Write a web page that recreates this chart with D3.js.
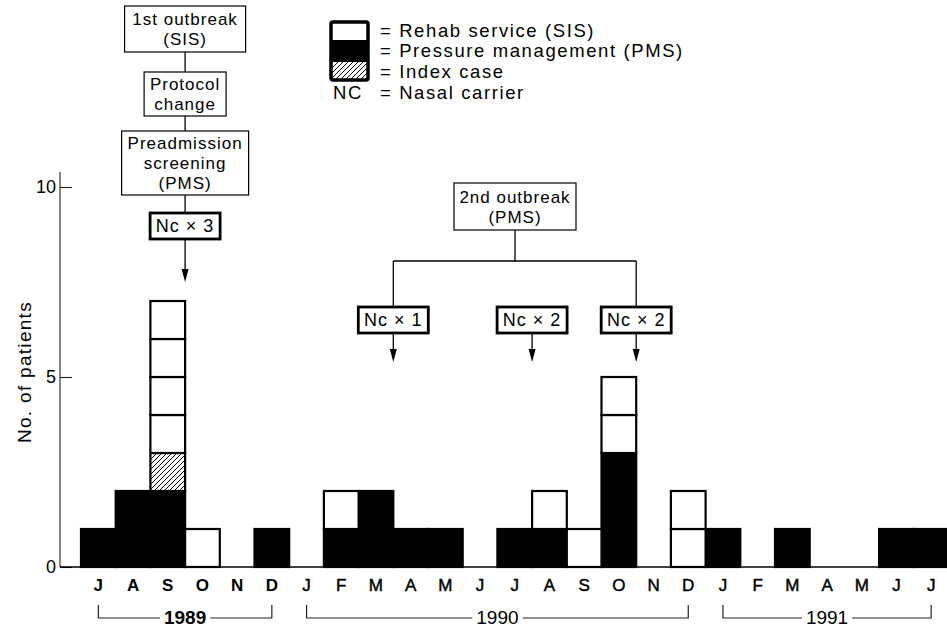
<!DOCTYPE html>
<html><head><meta charset="utf-8">
<script src="https://cdn.jsdelivr.net/npm/d3@7"></script>
<style>
body{margin:0;background:#fff}
svg{display:block}
text{font-family:"Liberation Sans",Arial,Helvetica,sans-serif;fill:#000}
</style>
</head><body>
<svg id="chart" width="947" height="627"></svg>
<script>
// ---------- data ----------
const months = ["J","A","S","O","N","D","J","F","M","A","M","J","J","A","S","O","N","D","J","F","M","A","M","J","J"];
const pms       = [1,2,2,0,0,1, 0,1,2,1,1,0,1,1,0,3,0,0, 1,0,1,0,0,1,1];
const indexCase = [0,0,1,0,0,0, 0,0,0,0,0,0,0,0,0,0,0,0, 0,0,0,0,0,0,0];
const sis       = [0,0,4,1,0,0, 0,1,0,0,0,0,0,1,1,2,0,2, 0,0,0,0,0,0,0];
const yTicks = [0,5,10];
const yearLabels = ["1989","1990","1991"];
const yearFrom   = [0,6,18];
const yearTo     = [5,17,24];
const ncLabels   = ["Nc \u00d7 3","Nc \u00d7 1","Nc \u00d7 2","Nc \u00d7 2"];
const ncAt       = [3,9,13,16];   // month boundary the arrow points to
const legendLabels = ["Rehab service (SIS)","Pressure management (PMS)","Index case"];
const firstOutbreakSteps = [["1st outbreak","(SIS)"],["Protocol","change"],["Preadmission","screening","(PMS)"]];
const secondOutbreak = ["2nd outbreak","(PMS)"];

// ---------- setup ----------
const svg = d3.select("#chart");
const step = 34.7, x0 = 81;
const x = d3.scaleBand().domain(d3.range(months.length)).range([x0, x0 + step*months.length]).padding(0);
const y = d3.scaleLinear().domain([0,10]).range([567,187]);
const bx = i => x0 + step*i; // month boundary

const defs = svg.append("defs");
const pat = defs.append("pattern").attr("id","hatch").attr("patternUnits","userSpaceOnUse")
  .attr("width",5).attr("height",5);
pat.append("rect").attr("width",5).attr("height",5).attr("fill","#fff");
pat.append("path").attr("d","M-1,1 l2,-2 M0,5 l5,-5 M4,6 l2,-2").attr("stroke","#000").attr("stroke-width",1);

// ---------- axes ----------
svg.append("line").attr("x1",60).attr("x2",60).attr("y1",172).attr("y2",y(0))
  .attr("stroke","#222").attr("stroke-width",1.1);
const yAxis = svg.append("g").attr("transform","translate(60,0)")
  .call(d3.axisLeft(y).tickValues(yTicks).tickSizeInner(-12).tickSizeOuter(0).tickPadding(4));
yAxis.select(".domain").remove();
yAxis.selectAll(".tick line").attr("stroke","#222").attr("stroke-width",1.1);
yAxis.selectAll(".tick text").attr("font-size",18).attr("font-family",null).attr("fill","#000");

svg.append("text").attr("transform","translate(31,372) rotate(-90)")
  .attr("text-anchor","middle").attr("font-size",19).attr("letter-spacing",1.3)
  .text("No. of patients");

// ---------- bars ----------
const cells = [];
months.forEach((m,i) => {
  let base = 0;
  if (pms[i] > 0) { cells.push({i, y0:base, y1:base+pms[i], type:"pms"}); base += pms[i]; }
  for (let k=0;k<indexCase[i];k++){ cells.push({i, y0:base, y1:base+1, type:"idx"}); base += 1; }
  for (let k=0;k<sis[i];k++){ cells.push({i, y0:base, y1:base+1, type:"sis"}); base += 1; }
});
const order = {pms:0, idx:1, sis:2};
cells.sort((a,b)=>order[a.type]-order[b.type]);
svg.append("g").selectAll("rect").data(cells).join("rect")
  .attr("x", d => x(d.i)).attr("width", x.bandwidth())
  .attr("y", d => y(d.y1)).attr("height", d => y(d.y0)-y(d.y1))
  .attr("fill", d => d.type==="pms" ? "#000" : d.type==="idx" ? "url(#hatch)" : "#fff")
  .attr("stroke","#000").attr("stroke-width",2.2);

// baseline
svg.append("line").attr("x1",60).attr("x2",947).attr("y1",y(0)).attr("y2",y(0))
  .attr("stroke","#000").attr("stroke-width",1.4);

// month labels
const xAxis = svg.append("g").attr("transform",`translate(0,${y(0)})`)
  .call(d3.axisBottom(x).tickSize(0).tickPadding(12).tickFormat(i => months[i]));
xAxis.select(".domain").remove();
xAxis.selectAll(".tick text").attr("font-size",17).attr("font-family",null).attr("fill","#000")
  .attr("font-weight", i => i<6 ? "bold" : "normal")
  .attr("stroke", i => i<6 ? null : "#000").attr("stroke-width",0.45);

// year brackets
yearLabels.forEach((lab,k) => {
  const xa = x(yearFrom[k]) + x.bandwidth()/2, xb = x(yearTo[k]) + x.bandwidth()/2;
  const cx = (xa+xb)/2;
  const g = svg.append("g");
  const t = g.append("text").attr("x",cx).attr("y",624).attr("text-anchor","middle")
    .attr("font-size",19).attr("font-weight", k===0 ? "bold" : "normal").text(lab);
  const w = t.node().getComputedTextLength()/2 + 4;
  g.append("path").attr("fill","none").attr("stroke","#222").attr("stroke-width",1.2)
    .attr("d",`M${xa},605 V618 H${cx-w} M${cx+w},618 H${xb} V605`);
});

// ---------- annotation helpers ----------
function box(cx, top, bottom, width, lines, thick, fs){
  const g = svg.append("g");
  g.append("rect").attr("x",cx-width/2).attr("y",top).attr("width",width).attr("height",bottom-top)
    .attr("fill","#fff").attr("stroke","#000").attr("stroke-width", thick ? 2.8 : 1.2);
  const lh = 20;
  const n = lines.length;
  const mid = (top+bottom)/2;
  lines.forEach((l,j) => {
    g.append("text").attr("x",cx).attr("y", mid + (j-(n-1)/2)*lh).attr("dy","0.36em")
      .attr("text-anchor","middle").attr("font-size",fs||17).attr("letter-spacing",1).text(l);
  });
}
function vline(xp, y1, y2){
  svg.append("line").attr("x1",xp).attr("x2",xp).attr("y1",y1).attr("y2",y2)
    .attr("stroke","#000").attr("stroke-width",1.3);
}
function arrow(xp, y1, y2){
  vline(xp, y1, y2-11);
  svg.append("path").attr("d",`M${xp-3.5},${y2-13} L${xp+3.5},${y2-13} L${xp},${y2} Z`).attr("fill","#000");
}

// first outbreak chain
const c1 = bx(ncAt[0]);
box(c1, 6, 52, 121, firstOutbreakSteps[0]);
vline(c1, 52, 72);
box(c1, 72, 116, 82, firstOutbreakSteps[1]);
vline(c1, 116, 131);
box(c1, 131, 195, 127, firstOutbreakSteps[2]);
vline(c1, 195, 213);
box(c1, 213, 239, 70, [ncLabels[0]], true, 18);
arrow(c1, 239, 282);

// second outbreak tree
box(515, 183, 230, 122, secondOutbreak);
vline(515, 230, 261);
svg.append("line").attr("x1",bx(ncAt[1])).attr("x2",bx(ncAt[3])).attr("y1",261).attr("y2",261)
  .attr("stroke","#000").attr("stroke-width",1.3);
vline(bx(ncAt[1]), 261, 307);
vline(bx(ncAt[3]), 261, 307);
[1,2,3].forEach(k => {
  box(bx(ncAt[k]), 307, 333, 70, [ncLabels[k]], true, 18);
  arrow(bx(ncAt[k]), 333, 362);
});

// ---------- legend ----------
const lg = svg.append("g");
lg.append("rect").attr("x",331).attr("y",22).attr("width",37).attr("height",18).attr("fill","#fff");
lg.append("rect").attr("x",331).attr("y",40).attr("width",37).attr("height",22).attr("fill","#000");
lg.append("rect").attr("x",331).attr("y",62).attr("width",37).attr("height",18).attr("fill","url(#hatch)");
lg.append("rect").attr("x",331).attr("y",22).attr("width",37).attr("height",58).attr("rx",2)
  .attr("fill","none").attr("stroke","#000").attr("stroke-width",3.5);
const legY = [37,57,78];
legendLabels.forEach((l,k) => {
  lg.append("text").attr("x",380).attr("y",legY[k]).attr("font-size",18.5).attr("letter-spacing",1.6).text("= " + l);
});
lg.append("text").attr("x",333).attr("y",99).attr("font-size",18.5).attr("letter-spacing",1.6).text("NC");
lg.append("text").attr("x",380).attr("y",99).attr("font-size",18.5).attr("letter-spacing",1.6).text("= Nasal carrier");
</script>
</body></html>
